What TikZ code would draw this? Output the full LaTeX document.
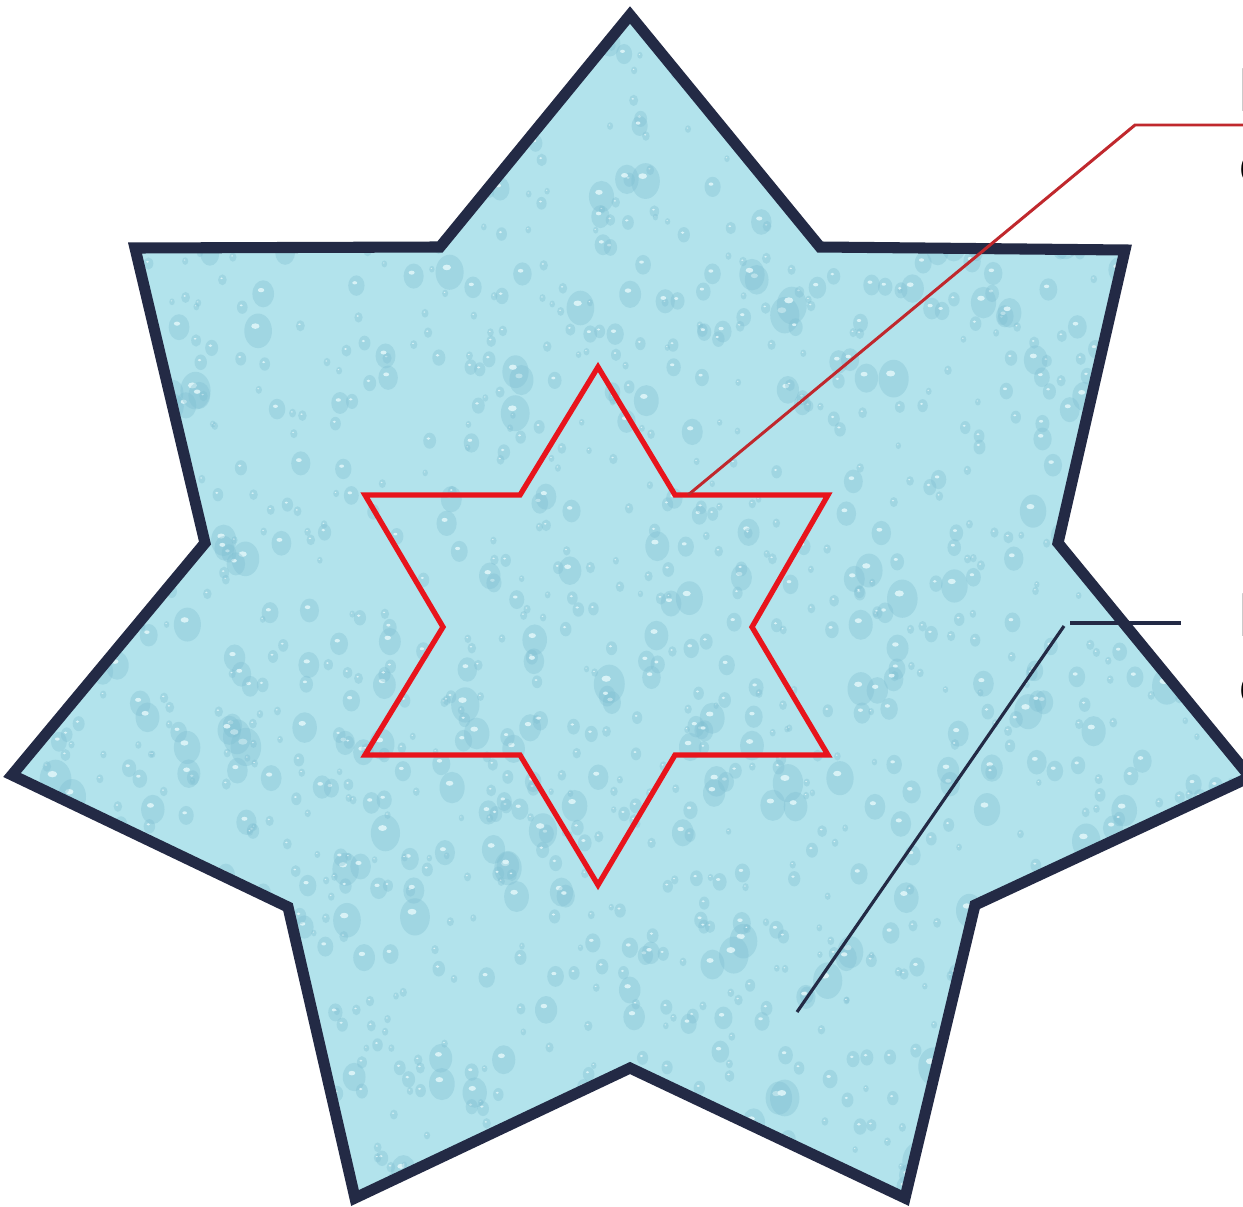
\documentclass[tikz,border=0pt]{standalone}
\usepackage{fontspec}
\setmainfont{Carlito}
\definecolor{navy}{HTML}{232A45}
\definecolor{starred}{HTML}{E8141C}
\definecolor{leadred}{HTML}{C0282D}
\definecolor{water}{HTML}{B2E3EC}
\definecolor{drop}{HTML}{7FBFD2}
\definecolor{droplight}{HTML}{E2F7FA}
\tikzset{
  outerstar/.style={draw=navy, line width=6.3pt, line join=miter, miter limit=10},
  innerstar/.style={draw=starred, line width=3pt, line join=miter},
  leadA/.style={draw=leadred, line width=1.7pt},
  leadB/.style={draw=navy, line width=1.8pt},
  lbl/.style={font=\fontsize{38}{41}\selectfont, inner sep=0pt, anchor=base west, text=black}
}
\begin{document}
\begin{tikzpicture}[x=0.02cm,y=-0.02cm]
\useasboundingbox (0,0) rectangle (1243,1206);
\fill[white] (0,0) rectangle (1243,1206);
% outer star corners
\coordinate (o1) at (630,15);
\coordinate (o2) at (440,247);
\coordinate (o3) at (135,248);
\coordinate (o4) at (205,543);
\coordinate (o5) at (12,775);
\coordinate (o6) at (288,907);
\coordinate (o7) at (355,1198);
\coordinate (o8) at (630,1068);
\coordinate (o9) at (905,1198);
\coordinate (o10) at (975,905);
\coordinate (o11) at (1250,777);
\coordinate (o12) at (1058,543);
\coordinate (o13) at (1125,250);
\coordinate (o14) at (820,247);
\begin{scope}
\clip (o1)--(o2)--(o3)--(o4)--(o5)--(o6)--(o7)--(o8)--(o9)--(o10)--(o11)--(o12)--(o13)--(o14)--cycle;
\fill[water] (0,0) rectangle (1260,1206);
\pgfmathsetseed{12}
\foreach \i in {1,...,1800}{
  \pgfmathsetmacro\px{rnd*1260}
  \pgfmathsetmacro\py{rnd*1206}
  \pgfmathsetmacro\r{1.5+rnd*rnd*8}
  \fill[drop, opacity=0.35] (\px,\py) ellipse [x radius=\r pt, y radius=1.25*\r pt];
  \fill[droplight, opacity=0.85] (\px-0.35*\r,\py-0.6*\r) ellipse [x radius=0.3*\r pt, y radius=0.2*\r pt];
}
\end{scope}
\draw[outerstar] (o1)--(o2)--(o3)--(o4)--(o5)--(o6)--(o7)--(o8)--(o9)--(o10)--(o11)--(o12)--(o13)--(o14)--cycle;
% inner hexagram
\coordinate (i1) at (598,367);
\coordinate (i2) at (520,495);
\coordinate (i3) at (365,495);
\coordinate (i4) at (443,627);
\coordinate (i5) at (365,755);
\coordinate (i6) at (520,755);
\coordinate (i7) at (598,885);
\coordinate (i8) at (675,755);
\coordinate (i9) at (828,755);
\coordinate (i10) at (752,627);
\coordinate (i11) at (828,495);
\coordinate (i12) at (675,495);
\draw[innerstar] (i1)--(i2)--(i3)--(i4)--(i5)--(i6)--(i7)--(i8)--(i9)--(i10)--(i11)--(i12)--cycle;
% leaders
\coordinate (a0) at (688,495);
\coordinate (a1) at (1135,125);
\coordinate (a2) at (1250,125);
\draw[leadA] (a0)--(a1)--(a2);
\coordinate (b0) at (797,1012);
\coordinate (b1) at (1064,626);
\coordinate (b2) at (1070,623);
\coordinate (b3) at (1181,623);
\draw[leadB] (b0)--(b1);
\draw[leadB] (b2)--(b3);
% labels (cut by the page edge)
\node[lbl] (t1) at (1238,112) {P};
\node[lbl] (t2) at (1239,186) {c};
\node[lbl] (t3) at (1238,636) {P};
\node[lbl] (t4) at (1239,706) {c};
\end{tikzpicture}
\end{document}
